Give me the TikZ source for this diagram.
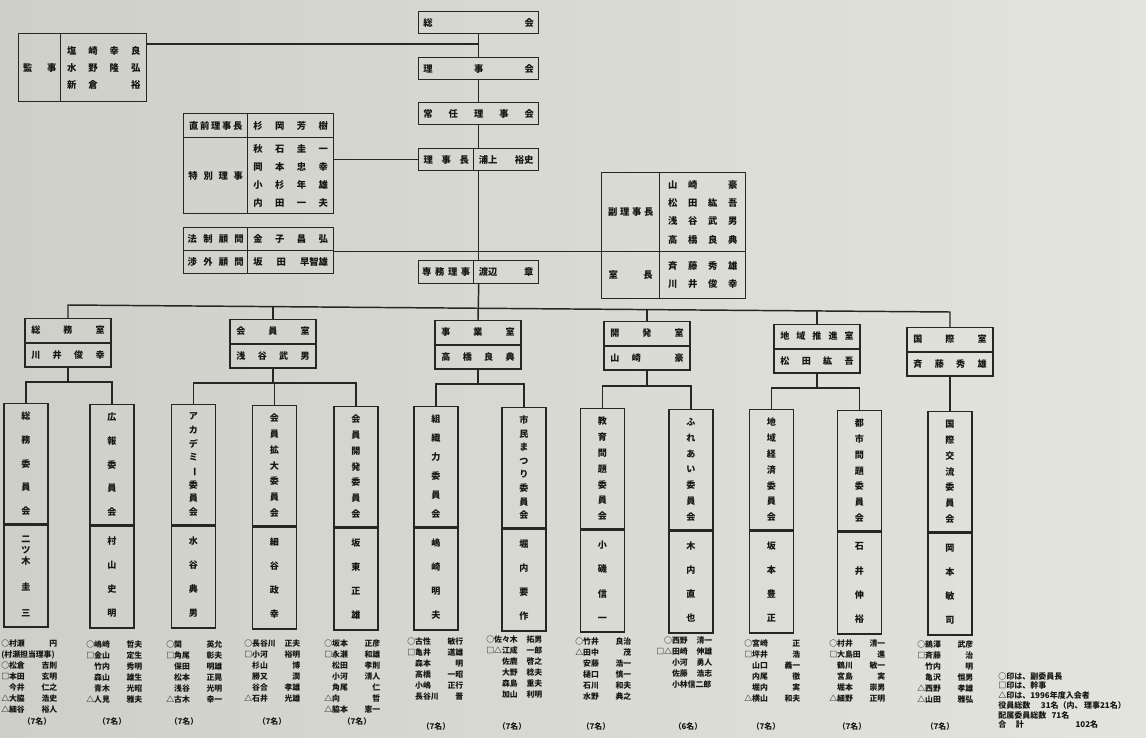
\documentclass[tikz,border=0pt]{standalone}
\usepackage{fontspec}
\usepackage{graphicx}
\setmainfont{Noto Sans CJK JP}
\definecolor{ink}{RGB}{38,38,36}
\definecolor{txt}{RGB}{22,22,20}
\definecolor{bgL}{RGB}{206,207,201}
\definecolor{bgR}{RGB}{228,228,222}
\newcommand\ftop{\fontsize{7}{8}\selectfont\bfseries}
\newcommand\ftopA{\fontsize{7}{12.75}\selectfont\bfseries}
\newcommand\ftopB{\fontsize{7}{13.5}\selectfont\bfseries}
\newcommand\ftopC{\fontsize{7}{13.7}\selectfont\bfseries}
\newcommand\fmid{\fontsize{6.8}{8}\selectfont\bfseries}
\newcommand\fcom{\fontsize{6.8}{8.25}\selectfont\bfseries}
\newcommand\flst{\fontsize{5.9}{8.25}\selectfont\bfseries}
\newcommand\fleg{\fontsize{6}{7.3}\selectfont\bfseries}
\newcommand\jv{\vfill}
\newcommand\jvc[1]{\parbox[c][77pt][s]{14pt}{\centering #1}}
\newcommand\jvn[1]{\parbox[c][60pt][s]{14pt}{\centering #1}}
\newcommand\jlr[2]{\hbox to 42pt{#1\hfill #2}}
\newcommand\jnn{\phantom{○}}
\newcommand\jhb[2]{\hbox to #1{#2}}
\newcommand\jcho{\rotatebox[origin=c]{-90}{ー}}
\begin{document}
\begin{tikzpicture}[x=0.75pt,y=-0.75pt,
  bx/.style={draw=ink,line width=1.1pt,inner sep=0pt,text=txt},
  ln/.style={draw=ink,line width=1.1pt,line cap=rect},
  lst/.style={inner sep=0pt,text=txt,font=\flst,align=left},
  dpt/.style={bx,anchor=north,minimum width=64.5pt,minimum height=17.625pt,font=\fmid},
  cma/.style={bx,anchor=north,minimum width=33pt,minimum height=90pt,font=\fcom},
  cmb/.style={bx,anchor=north,minimum width=33pt,minimum height=76.5pt,font=\fcom},
  cnt/.style={inner sep=0pt,text=txt,font=\flst}]
\useasboundingbox (0,0) rectangle (1146,738);
\fill[left color=bgL,right color=bgR] (0,0) rectangle (1146,738);

% ---- central column
\node[bx,anchor=north west,minimum width=90pt,minimum height=16.5pt,font=\ftop] (sokai) at (418,11) {\jhb{83pt}{総\hfill 会}};
\node[bx,anchor=north west,minimum width=90pt,minimum height=16.5pt,font=\ftop] (rijikai) at (418,57) {\jhb{83pt}{理\hfill 事\hfill 会}};
\node[bx,anchor=north west,minimum width=90pt,minimum height=16.5pt,font=\ftop] (jonin) at (418,102) {\jhb{83pt}{常\hfill 任\hfill 理\hfill 事\hfill 会}};
\node[bx,anchor=north west,minimum width=41.25pt,minimum height=16.5pt,font=\ftop] (rcL) at (418,148) {\jhb{34pt}{理\hfill 事\hfill 長}};
\node[bx,anchor=north west,minimum width=48.75pt,minimum height=16.5pt,font=\ftop] (rcR) at (473,148) {\jhb{41pt}{浦上\hfill 裕史}};
\node[bx,anchor=north west,minimum width=41.25pt,minimum height=17.25pt,font=\ftop] (smL) at (418,260) {\jhb{36pt}{専\hfill 務\hfill 理\hfill 事}};
\node[bx,anchor=north west,minimum width=48.75pt,minimum height=17.25pt,font=\ftop] (smR) at (473,260) {\jhb{41pt}{渡辺\hfill 章}};

% ---- auditors
\node[bx,anchor=north west,minimum width=31.5pt,minimum height=51pt,font=\ftop] (kjL) at (18,33) {\jhb{25pt}{監\hfill 事}};
\node[bx,anchor=north west,minimum width=64.5pt,minimum height=51pt,font=\ftopA,align=center] (kjR) at (60,33)
  {\jhb{55pt}{塩\hfill 崎\hfill 幸\hfill 良}\\\jhb{55pt}{水\hfill 野\hfill 隆\hfill 弘}\\\jhb{55pt}{新\hfill 倉\hfill\phantom{倉}\hfill 裕}};

% ---- former chairman / special directors
\node[bx,anchor=north west,minimum width=48pt,minimum height=18pt,font=\ftop] (zenL) at (183,113) {\jhb{40pt}{直\hfill 前\hfill 理\hfill 事\hfill 長}};
\node[bx,anchor=north west,minimum width=64.5pt,minimum height=18pt,font=\ftop] (zenR) at (247,113) {\jhb{56pt}{杉\hfill 岡\hfill 芳\hfill 樹}};
\node[bx,anchor=north west,minimum width=48pt,minimum height=57pt,font=\ftop] (tkL) at (183,137) {\jhb{41pt}{特\hfill 別\hfill 理\hfill 事}};
\node[bx,anchor=north west,minimum width=64.5pt,minimum height=57pt,font=\ftopB,align=center] (tkR) at (247,137)
  {\jhb{56pt}{秋\hfill 石\hfill 圭\hfill 一}\\\jhb{56pt}{岡\hfill 本\hfill 忠\hfill 幸}\\\jhb{56pt}{小\hfill 杉\hfill 年\hfill 雄}\\\jhb{56pt}{内\hfill 田\hfill 一\hfill 夫}};

% ---- advisers
\node[bx,anchor=north west,minimum width=48pt,minimum height=17.25pt,font=\ftop] (hoL) at (183,227) {\jhb{42pt}{法\hfill 制\hfill 顧\hfill 問}};
\node[bx,anchor=north west,minimum width=64.5pt,minimum height=17.25pt,font=\ftop] (hoR) at (247,227) {\jhb{56pt}{金\hfill 子\hfill 昌\hfill 弘}};
\node[bx,anchor=north west,minimum width=48pt,minimum height=17.25pt,font=\ftop] (shL) at (183,250) {\jhb{42pt}{渉\hfill 外\hfill 顧\hfill 問}};
\node[bx,anchor=north west,minimum width=64.5pt,minimum height=17.25pt,font=\ftop] (shR) at (247,250) {\jhb{56pt}{坂\hfill 田\hfill 早智雄}};

% ---- vice chairmen / heads
\node[bx,anchor=north west,minimum width=43.5pt,minimum height=59.25pt,font=\ftop] (fkL) at (601,172) {\jhb{34pt}{副\hfill 理\hfill 事\hfill 長}};
\node[bx,anchor=north west,minimum width=64.5pt,minimum height=59.25pt,font=\ftopC,align=center] (fkR) at (659,172)
  {\jhb{52pt}{山\hfill 崎\hfill\phantom{崎}\hfill 豪}\\\jhb{52pt}{松\hfill 田\hfill 紘\hfill 吾}\\\jhb{52pt}{浅\hfill 谷\hfill 武\hfill 男}\\\jhb{52pt}{高\hfill 橋\hfill 良\hfill 典}};
\node[bx,anchor=north west,minimum width=43.5pt,minimum height=35.25pt,font=\ftop] (stL) at (601,251) {\jhb{33pt}{室\hfill 長}};
\node[bx,anchor=north west,minimum width=64.5pt,minimum height=35.25pt,font=\ftopC,align=center] (stR) at (659,251)
  {\jhb{52pt}{斉\hfill 藤\hfill 秀\hfill 雄}\\\jhb{52pt}{川\hfill 井\hfill 俊\hfill 幸}};

% ---- departments
\node[dpt] (soumuA) at (68,318) {\jhb{55pt}{総\hfill 務\hfill 室}};
\node[dpt] (soumuB) at (soumuA.south) {\jhb{55pt}{川\hfill 井\hfill 俊\hfill 幸}};
\node[dpt] (kaiinA) at (273,319) {\jhb{55pt}{会\hfill 員\hfill 室}};
\node[dpt] (kaiinB) at (kaiinA.south) {\jhb{55pt}{浅\hfill 谷\hfill 武\hfill 男}};
\node[dpt] (jigyoA) at (478,320) {\jhb{55pt}{事\hfill 業\hfill 室}};
\node[dpt] (jigyoB) at (jigyoA.south) {\jhb{55pt}{高\hfill 橋\hfill 良\hfill 典}};
\node[dpt] (khA) at (647,321) {\jhb{55pt}{開\hfill 発\hfill 室}};
\node[dpt] (khB) at (khA.south) {\jhb{55pt}{山\hfill 崎\hfill\phantom{崎}\hfill 豪}};
\node[dpt] (chA) at (817,324) {\jhb{55pt}{地\hfill 域\hfill 推\hfill 進\hfill 室}};
\node[dpt] (chB) at (chA.south) {\jhb{55pt}{松\hfill 田\hfill 紘\hfill 吾}};
\node[dpt] (kkA) at (950,327) {\jhb{55pt}{国\hfill 際\hfill 室}};
\node[dpt] (kkB) at (kkA.south) {\jhb{55pt}{斉\hfill 藤\hfill 秀\hfill 雄}};

% ---- committees
\node[cma] (c1a) at (26,403) {\jvc{総\jv 務\jv 委\jv 員\jv 会}};
\node[cmb] (c1b) at (c1a.south) {\jvn{二\par ツ\par 木\jv 圭\jv 三}};
\node[cma] (c2a) at (112,404) {\jvc{広\jv 報\jv 委\jv 員\jv 会}};
\node[cmb] (c2b) at (c2a.south) {\jvn{村\jv 山\jv 史\jv 明}};
\node[cma] (c3a) at (193.5,404) {\jvc{ア\jv カ\jv デ\jv ミ\jv \jcho\jv 委\jv 員\jv 会}};
\node[cmb] (c3b) at (c3a.south) {\jvn{水\jv 谷\jv 典\jv 男}};
\node[cma] (c4a) at (274.5,405) {\jvc{会\jv 員\jv 拡\jv 大\jv 委\jv 員\jv 会}};
\node[cmb] (c4b) at (c4a.south) {\jvn{細\jv 谷\jv 政\jv 幸}};
\node[cma] (c5a) at (356,406) {\jvc{会\jv 員\jv 開\jv 発\jv 委\jv 員\jv 会}};
\node[cmb] (c5b) at (c5a.south) {\jvn{坂\jv 東\jv 正\jv 雄}};
\node[cma] (c6a) at (436,406) {\jvc{組\jv 織\jv 力\jv 委\jv 員\jv 会}};
\node[cmb] (c6b) at (c6a.south) {\jvn{嶋\jv 崎\jv 明\jv 夫}};
\node[cma] (c7a) at (524,407) {\jvc{市\jv 民\jv ま\jv つ\jv り\jv 委\jv 員\jv 会}};
\node[cmb] (c7b) at (c7a.south) {\jvn{堀\jv 内\jv 要\jv 作}};
\node[cma] (c8a) at (602.5,408) {\jvc{教\jv 育\jv 問\jv 題\jv 委\jv 員\jv 会}};
\node[cmb] (c8b) at (c8a.south) {\jvn{小\jv 磯\jv 信\jv 一}};
\node[cma] (c9a) at (691,409) {\jvc{ふ\jv れ\jv あ\jv い\jv 委\jv 員\jv 会}};
\node[cmb] (c9b) at (c9a.south) {\jvn{木\jv 内\jv 直\jv 也}};
\node[cma] (c10a) at (771.5,409) {\jvc{地\jv 域\jv 経\jv 済\jv 委\jv 員\jv 会}};
\node[cmb] (c10b) at (c10a.south) {\jvn{坂\jv 本\jv 豊\jv 正}};
\node[cma] (c11a) at (859.5,410) {\jvc{都\jv 市\jv 問\jv 題\jv 委\jv 員\jv 会}};
\node[cmb] (c11b) at (c11a.south) {\jvn{石\jv 井\jv 伸\jv 裕}};
\node[cma] (c12a) at (950,411) {\jvc{国\jv 際\jv 交\jv 流\jv 委\jv 員\jv 会}};
\node[cmb] (c12b) at (c12a.south) {\jvn{岡\jv 本\jv 敏\jv 司}};

% ---- connectors: top
\draw[ln] (sokai.south) -- (rijikai.north);
\draw[ln] (rijikai.south) -- (jonin.north);
\draw[ln] (jonin.south) -- (jonin.south |- rcR.north);
\draw[ln] (jonin.south |- rcR.south) -- (jonin.south |- smR.north);
\draw[ln] (jonin.south |- smR.south) -- (jigyoA.north);
\coordinate (kjE) at ([yshift=-8.25pt]kjR.north east);
\draw[ln] (kjE) -- (kjE -| sokai.south);
\draw[ln] (rcL.west) -- (rcL.west -| tkR.east);
\draw[ln] (hoR.south east) -- (hoR.south east -| fkL.west);

% ---- main bus
\coordinate (b1) at (68,305);
\coordinate (b2) at (273,306.6);
\coordinate (b4) at (647,309.6);
\coordinate (b5) at (817,311);
\coordinate (b6) at (950,312);
\draw[ln] (soumuA.north) -- (b1) -- (b6) -- (kkA.north);
\draw[ln] (kaiinA.north) -- (b2);
\draw[ln] (khA.north) -- (b4);
\draw[ln] (chA.north) -- (b5);

% ---- sub buses
\coordinate (y1) at (0,382);
\coordinate (y2) at (0,383);
\coordinate (y3) at (0,384);
\coordinate (y4) at (0,386);
\coordinate (y5) at (0,388);
\draw[ln] (soumuB.south) -- (soumuB.south |- y1);
\draw[ln] (c1a.north) -- (c1a.north |- y1) -- (c2a.north |- y1) -- (c2a.north);
\draw[ln] (kaiinB.south) -- (kaiinB.south |- y2);
\draw[ln] (c3a.north) -- (c3a.north |- y2) -- (c5a.north |- y2) -- (c5a.north);
\draw[ln] (c4a.north) -- (c4a.north |- y2);
\draw[ln] (jigyoB.south) -- (jigyoB.south |- y3);
\draw[ln] (c6a.north) -- (c6a.north |- y3) -- (c7a.north |- y3) -- (c7a.north);
\draw[ln] (khB.south) -- (khB.south |- y4);
\draw[ln] (c8a.north) -- (c8a.north |- y4) -- (c9a.north |- y4) -- (c9a.north);
\draw[ln] (chB.south) -- (chB.south |- y5);
\draw[ln] (c10a.north) -- (c10a.north |- y5) -- (c11a.north |- y5) -- (c11a.north);
\draw[ln] (kkB.south) -- (c12a.north);

% ---- member lists
\node[lst,anchor=north west] (l1) at (1,640) {\jlr{○村瀬}{円}\\\hbox to 42pt{(村瀬担当理事)\hfill}\\\jlr{○松倉}{吉則}\\\jlr{□本田}{玄明}\\\jlr{\jnn 今井}{仁之}\\\jlr{△大脇}{浩史}\\\jlr{△細谷}{裕人}};
\node[lst,anchor=north west] (l2) at (86,640) {\jlr{○嶋崎}{哲夫}\\\jlr{□金山}{定生}\\\jlr{\jnn 竹内}{秀明}\\\jlr{\jnn 森山}{雄生}\\\jlr{\jnn 青木}{光昭}\\\jlr{△人見}{雅夫}};
\node[lst,anchor=north west] (l3) at (166,640) {\jlr{○関}{英允}\\\jlr{□角尾}{彰夫}\\\jlr{\jnn 保田}{明雄}\\\jlr{\jnn 松本}{正晃}\\\jlr{\jnn 浅谷}{光明}\\\jlr{△古木}{幸一}};
\node[lst,anchor=north west] (l4) at (244,640) {\jlr{○長谷川}{正夫}\\\jlr{□小河}{裕明}\\\jlr{\jnn 杉山}{博}\\\jlr{\jnn 勝又}{潤}\\\jlr{\jnn 谷合}{孝雄}\\\jlr{△石井}{光雄}};
\node[lst,anchor=north west] (l5) at (324,640) {\jlr{○坂本}{正彦}\\\jlr{□永瀬}{和雄}\\\jlr{\jnn 松田}{孝則}\\\jlr{\jnn 小河}{清人}\\\jlr{\jnn 角尾}{仁}\\\jlr{△向}{哲}\\\jlr{△脇本}{憲一}};
\node[lst,anchor=north west] (l6) at (407,637) {\jlr{○古性}{敏行}\\\jlr{□亀井}{道雄}\\\jlr{\jnn 森本}{明}\\\jlr{\jnn 高橋}{一昭}\\\jlr{\jnn 小嶋}{正行}\\\jlr{\jnn 長谷川}{晋}};
\node[lst,anchor=north west] (l7) at (486,636) {\jlr{○佐々木}{拓男}\\\jlr{□△江成}{一郎}\\\jlr{\jnn\jnn 佐鹿}{啓之}\\\jlr{\jnn\jnn 大野}{稔夫}\\\jlr{\jnn\jnn 森島}{重夫}\\\jlr{\jnn\jnn 加山}{利明}};
\node[lst,anchor=north west] (l8) at (575,637) {\jlr{○竹井}{良治}\\\jlr{△田中}{茂}\\\jlr{\jnn 安藤}{浩一}\\\jlr{\jnn 樋口}{慎一}\\\jlr{\jnn 石川}{和夫}\\\jlr{\jnn 水野}{典之}};
\node[lst,anchor=north west] (l9) at (656,637) {\jlr{\jnn ○西野}{清一}\\\jlr{□△田崎}{伸雄}\\\jlr{\jnn\jnn 小河}{勇人}\\\jlr{\jnn\jnn 佐藤}{浩志}\\\jlr{\jnn\jnn 小林信二郎}{}};
\node[lst,anchor=north west] (l10) at (744,640) {\jlr{○宮崎}{正}\\\jlr{□坪井}{浩}\\\jlr{\jnn 山口}{義一}\\\jlr{\jnn 内尾}{徹}\\\jlr{\jnn 堀内}{実}\\\jlr{△横山}{和夫}};
\node[lst,anchor=north west] (l11) at (829,640) {\jlr{○村井}{清一}\\\jlr{□大島田}{進}\\\jlr{\jnn 鶴川}{敏一}\\\jlr{\jnn 宮島}{実}\\\jlr{\jnn 堀本}{崇男}\\\jlr{△細野}{正明}};
\node[lst,anchor=north west] (l12) at (917,640) {\jlr{○鵜澤}{武彦}\\\jlr{□斉藤}{治}\\\jlr{\jnn 竹内}{明}\\\jlr{\jnn 亀沢}{恒男}\\\jlr{△西野}{孝雄}\\\jlr{△山田}{雅弘}};

% ---- counts
\node[cnt] (n1) at (37,722) {（7名）};
\node[cnt] (n2) at (112,722) {（7名）};
\node[cnt] (n3) at (184,722) {（7名）};
\node[cnt] (n4) at (272,722) {（7名）};
\node[cnt] (n5) at (357,722) {（7名）};
\node[cnt] (n6) at (436,727) {（7名）};
\node[cnt] (n7) at (512,727) {（7名）};
\node[cnt] (n8) at (596,727) {（7名）};
\node[cnt] (n9) at (688,727) {（6名）};
\node[cnt] (n10) at (766,727) {（7名）};
\node[cnt] (n11) at (852,727) {（7名）};
\node[cnt] (n12) at (940,727) {（7名）};

% ---- legend
\node[inner sep=0pt,text=txt,font=\fleg,align=left,anchor=north west] (leg) at (998,672)
 {○印は、副委員長\\□印は、幹事\\△印は、1996年度入会者\\\makebox[32pt][l]{役員総数}31名（内、\,理事21名）\\\makebox[40pt][l]{配属委員総数}71名\\\makebox[58pt][l]{合\hspace{1.2em}計}102名};
\end{tikzpicture}
\end{document}
